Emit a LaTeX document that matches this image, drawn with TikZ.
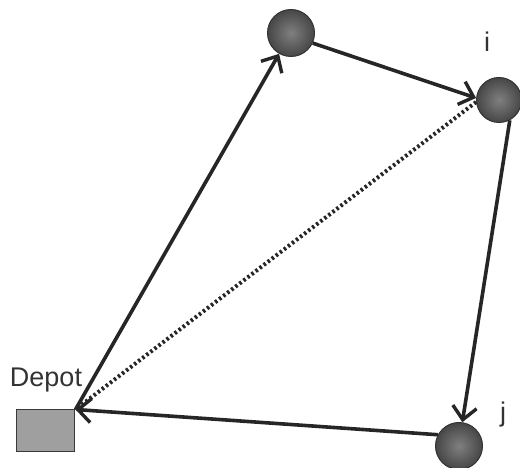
\documentclass[tikz,border=0pt]{standalone}
\usepackage{fontspec}
\setmainfont{Liberation Sans}
\usetikzlibrary{positioning}
\usetikzlibrary{arrows.meta}

\begin{document}
\begin{tikzpicture}[
    on grid,
    cliente/.style={circle, minimum size=47pt, inner sep=0pt,
      inner color=gray, outer color=gray!55!black,
      draw=gray!40!black, line width=1pt},
    deposito/.style={rectangle, minimum width=58pt, minimum height=42pt,
      fill=gray!75, draw=gray!45!black, line width=1pt},
    arco/.style={line width=3.6pt, black!85,
      -{Straight Barb[length=13pt,width=24pt,line width=3.4pt]}},
    scorciatoia/.style={line width=4pt, black!85, dash pattern=on 2.5pt off 2.6pt},
    etichetta/.style={text=gray!40!black, font=\fontsize{27}{32}\selectfont}]
    \useasboundingbox (-46pt,-37pt) rectangle (474pt,431pt);

    % Deposito e clienti
    \node [deposito] (depot) {};
    \node [etichetta, above=51pt of depot] (depotlab) {Depot};
    \node [cliente, above right=398pt and 245pt of depot] (c1) {};
    \node [cliente, minimum size=45pt, below right=67pt and 208pt of c1] (ci) {};
    \node [cliente, below left=346pt and 40pt of ci] (cj) {};

    % Etichette dei clienti
    \node [etichetta, above left=58pt and 12pt of ci] (ilab) {i};
    \node [etichetta, above right=31pt and 44pt of cj] (jlab) {j};

    % Giro del veicolo
    \draw [arco] (depot.north east) -- (c1);
    \draw [arco] (c1.-25) -- (ci.175);
    \draw [arco] (ci.-62) -- (cj.82);
    \draw [arco] (cj.152) -- (depot.north east);

    % Arco diretto (puntinato)
    \draw [scorciatoia] (ci.185) -- (depot.north east);
\end{tikzpicture}
\end{document}
